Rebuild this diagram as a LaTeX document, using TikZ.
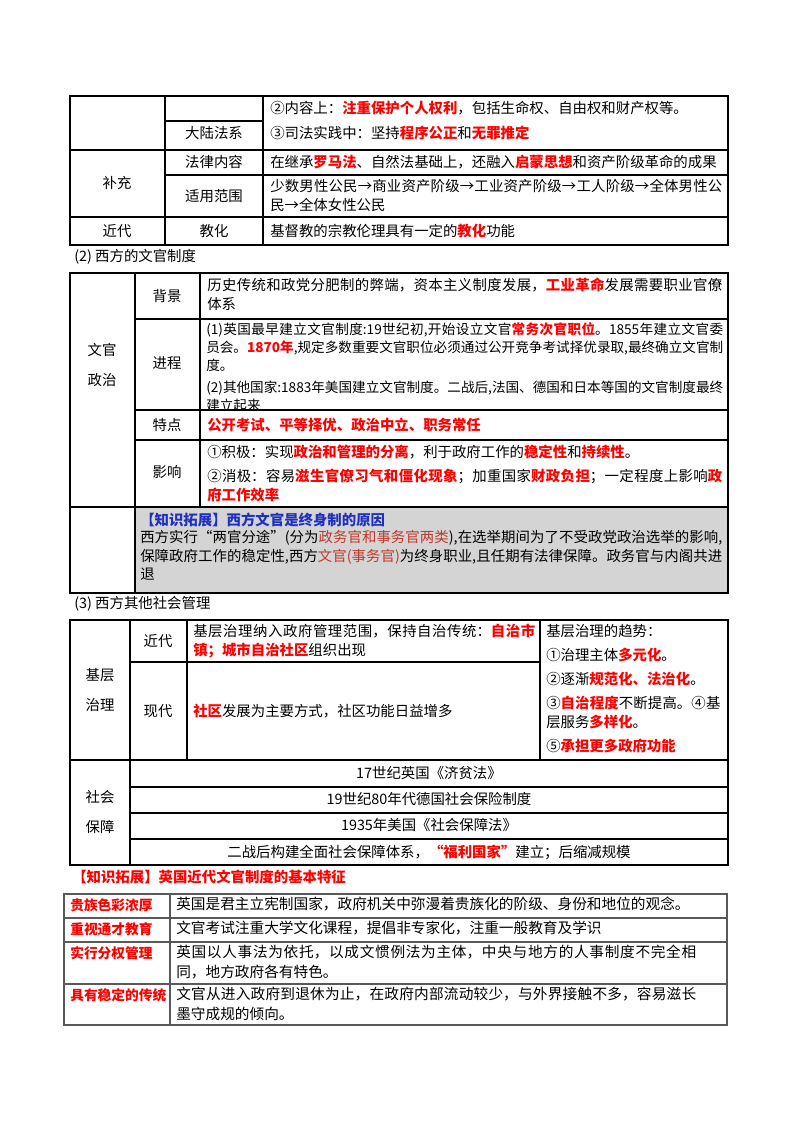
\documentclass[tikz,border=0pt]{standalone}
\usepackage{fontspec}
\setmainfont{Noto Sans CJK SC}
\XeTeXlinebreaklocale "zh"
\XeTeXlinebreakskip=0pt plus 1pt
\definecolor{rd}{HTML}{FF0000}
\definecolor{dr}{HTML}{C0392B}
\definecolor{bl}{HTML}{1F2FBF}
\newcommand\rb[1]{\textcolor{rd}{\bfseries #1}}
\tikzset{
 tb/.style={line width=0.9pt},
 tg/.style={line width=0.8pt, draw=black!65},
 cc/.style={anchor=center, inner sep=0pt, font=\fontsize{10.8}{14}\selectfont, align=center},
 lw/.style={anchor=west, inner sep=0pt, font=\fontsize{10.8}{14}\selectfont},
 tp/.style={anchor=north west, inner sep=0pt, font=\fontsize{10.8}{14}\selectfont, align=justify, text width=#1},
 sm/.style={anchor=north west, inner sep=0pt, font=\fontsize{11}{15}\selectfont, align=justify, text width=#1},
 lb/.style={anchor=north west, inner sep=0pt, font=\fontsize{10.3}{15}\selectfont},
}
\begin{document}
\begin{tikzpicture}[x=0.75pt,y=-0.75pt]
\useasboundingbox (0,0) rectangle (800,1132);
% ---------- Table 1
\draw[tb] (70,96) rectangle (728,245);
\draw[tb] (165,96)--(165,245) (263,96)--(263,245) (165,121)--(263,121)
 (70,150)--(728,150) (165,175)--(728,175) (70,217)--(728,217);
\node[lw] (a1) at (270,108) {②内容上：\rb{注重保护个人权利}，包括生命权、自由权和财产权等。};
\node[cc] (a2) at (214,133) {大陆法系};
\node[lw] (a3) at (270,133) {③司法实践中：坚持\rb{程序公正}和\rb{无罪推定}};
\node[cc] (a4) at (214,162) {法律内容};
\node[lw] (a5) at (270,162) {在继承\rb{罗马法}、自然法基础上，还融入\rb{启蒙思想}和资产阶级革命的成果};
\node[cc] (a6) at (117,183) {补充};
\node[cc] (a7) at (214,196) {适用范围};
\node[tp=452*0.75pt] (a8) at (270,179) {少数男性公民→商业资产阶级→工业资产阶级→工人阶级→全体男性公民→全体女性公民};
\node[cc] (a9) at (117,231) {近代};
\node[cc] (a10) at (214,231) {教化};
\node[lw] (a11) at (270,231) {基督教的宗教伦理具有一定的\rb{教化}功能};
\node[lw] (c1) at (74,257) {(2) 西方的文官制度};
% ---------- Table 2
\fill[black!17] (135,507) rectangle (728,593);
\draw[tb] (70,273) rectangle (728,593);
\draw[tb] (135,273)--(135,593) (200,273)--(200,507)
 (135,319)--(728,319) (135,410)--(728,410) (135,440)--(728,440) (70,507)--(728,507);
\node[cc] (b1) at (167,296) {背景};
\node[tp=515*0.75pt] (b2) at (207,278) {历史传统和政党分肥制的弊端，资本主义制度发展，\rb{工业革命}发展需要职业官僚体系};
\node[cc] (b3) at (167,363) {进程};
\node[tp=517*0.75pt, font=\fontsize{10.2}{13.5}\selectfont] (b4) at (206,322) {(1)英国最早建立文官制度:19世纪初,开始设立文官\rb{常务次官职位}。1855年建立文官委员会。\rb{1870年},规定多数重要文官职位必须通过公开竞争考试择优录取,最终确立文官制度。\par\vspace{3pt}(2)其他国家:1883年美国建立文官制度。二战后,法国、德国和日本等国的文官制度最终建立起来};
\node[cc] (b5) at (102,365) {文官\\[8pt]政治};
\node[cc] (b6) at (167,425) {特点};
\node[lw] (b7) at (207,425) {\rb{公开考试、平等择优、政治中立、职务常任}};
\node[cc] (b8) at (167,472) {影响};
\node[tp=515*0.75pt] (b9) at (207,445) {①积极：实现\rb{政治和管理的分离}，利于政府工作的\rb{稳定性}和\rb{持续性}。\par\vspace{4pt}②消极：容易\rb{滋生官僚习气和僵化现象}；加重国家\rb{财政负担}；一定程度上影响\rb{政府工作效率}};
\node[lw] (b10) at (140,520) {\textcolor{bl}{\bfseries 【知识拓展】西方文官是终身制的原因}};
\node[tp=582*0.75pt] (b11) at (140,530) {西方实行“两官分途”(分为\textcolor{dr}{政务官和事务官两类}),在选举期间为了不受政党政治选举的影响,保障政府工作的稳定性,西方\textcolor{dr}{文官(事务官)}为终身职业,且任期有法律保障。政务官与内阁共进退};
\node[lw] (c2) at (74,604) {(3) 西方其他社会管理};
% ---------- Table 3
\draw[tb] (70,620) rectangle (728,865);
\draw[tb] (130,620)--(130,865) (187,620)--(187,760) (540,620)--(540,760)
 (130,662)--(540,662) (70,760)--(728,760) (130,787)--(728,787) (130,813)--(728,813) (130,839)--(728,839);
\node[cc] (d1) at (100,690) {基层\\[8pt]治理};
\node[cc] (d2) at (158,641) {近代};
\node[cc] (d3) at (158,711) {现代};
\node[tp=342*0.75pt] (d4) at (193,624) {基层治理纳入政府管理范围，保持自治传统：\rb{自治市镇；城市自治社区}组织出现};
\node[lw] (d5) at (193,711) {\rb{社区}发展为主要方式，社区功能日益增多};
\node[tp=178*0.75pt, align=left] (d6) at (546,624) {基层治理的趋势：\par\vspace{4pt}①治理主体\rb{多元化}。\par\vspace{4pt}②逐渐\rb{规范化、法治化}。\par\vspace{4pt}③\rb{自治程度}不断提高。④基层服务\rb{多样化}。\par\vspace{4pt}⑤\rb{承担更多政府功能}};
\node[cc] (d7) at (100,812) {社会\\[8pt]保障};
\node[cc] (d8) at (429,773) {17世纪英国《济贫法》};
\node[cc] (d9) at (429,799) {19世纪80年代德国社会保险制度};
\node[cc] (d10) at (429,825) {1935年美国《社会保障法》};
\node[cc] (d11) at (429,852) {二战后构建全面社会保障体系，\rb{“福利国家”}建立；后缩减规模};
\node[lw] (c3) at (72,877) {\rb{【知识拓展】英国近代文官制度的基本特征}};
% ---------- Table 4
\draw[tg] (64,894) rectangle (727,1025);
\draw[tg] (170,894)--(170,1025) (64,918)--(727,918) (64,942)--(727,942) (64,984)--(727,984);
\node[lb] (e1) at (70,898) {\rb{贵族色彩浓厚}};
\node[sm=545*0.75pt] (e2) at (176,897) {英国是君主立宪制国家，政府机关中弥漫着贵族化的阶级、身份和地位的观念。};
\node[lb] (e3) at (70,922) {\rb{重视通才教育}};
\node[sm=545*0.75pt] (e4) at (176,921) {文官考试注重大学文化课程，提倡非专家化，注重一般教育及学识};
\node[lb] (e5) at (70,946) {\rb{实行分权管理}};
\node[sm=520*0.75pt] (e6) at (176,945) {英国以人事法为依托，以成文惯例法为主体，中央与地方的人事制度不完全相同，地方政府各有特色。};
\node[lb] (e7) at (70,988) {\rb{具有稳定的传统}};
\node[sm=520*0.75pt] (e8) at (176,987) {文官从进入政府到退休为止，在政府内部流动较少，与外界接触不多，容易滋长墨守成规的倾向。};
\end{tikzpicture}
\end{document}
